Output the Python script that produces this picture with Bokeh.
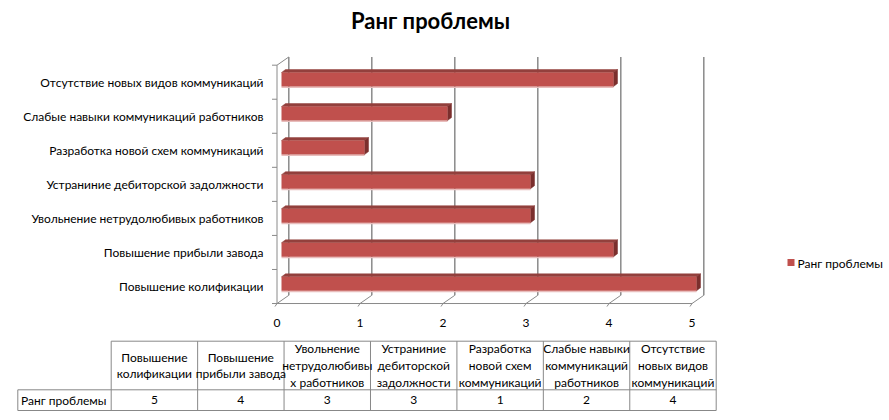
from bokeh.plotting import figure
from bokeh.models import Range1d, ColumnDataSource
from bokeh.core.properties import value
from bokeh.embed import file_html
from bokeh.resources import INLINE

# ---------------- data ----------------
title = "Ранг проблемы"
series_name = "Ранг проблемы"
categories = [
    "Повышение колификации",
    "Повышение прибыли завода",
    "Увольнение нетрудолюбивых работников",
    "Устраниние дебиторской задолжности",
    "Разработка новой схем коммуникаций",
    "Слабые навыки коммуникаций работников",
    "Отсутствие новых видов коммуникаций",
]
values = [5, 4, 3, 3, 1, 2, 4]
x_ticks = [0, 1, 2, 3, 4, 5]
table_headers = [
    "Повышение\nколификации",
    "Повышение\nприбыли завода",
    "Увольнение\nнетрудолюбивы\nх работников",
    "Устраниние\nдебиторской\nзадолжности",
    "Разработка\nновой схем\nкоммуникаций",
    "Слабые навыки\nкоммуникаций\nработников",
    "Отсутствие\nновых видов\nкоммуникаций",
]

# ---------------- layout helpers (pixel -> data) ----------------
W, H = 889, 420
X0, XS = 281.0, 83.0      # pixel of value 0 on bar plane, px per unit
Y0, YS = 283.3, 34.05     # pixel of first category centre, px per category


def fx(px):
    return (px - X0) / XS


def fy(py):
    return (Y0 - py) / YS


FONT = "Lato"
BAR = "#C0504D"
BAR_TOP = "#93403D"
BAR_SIDE = "#7B2F2D"
GRID = "#8A8A8A"

p = figure(width=W, height=H, output_backend="svg", toolbar_location=None,
           x_range=Range1d(fx(0), fx(W)), y_range=Range1d(fy(H), fy(0)),
           x_axis_type=None, y_axis_type=None, min_border=0,
           outline_line_color=None, background_fill_color="white",
           border_fill_color="white")
p.grid.visible = False

n = len(categories)
idx = list(range(n))

# 3D offsets (pixels)
fdx, fdy = -4.5, 2.7     # front plane relative to bar plane
bdx, bdy = 7.3, -5.5     # back plane relative to bar plane
ddx, ddy = 4.0, -3.0     # bar depth

xmax = x_ticks[-1]
# back wall gridlines
p.segment(x0=[t + bdx / XS for t in x_ticks], y0=[-0.5 - bdy / YS for _ in x_ticks],
          x1=[t + bdx / XS for t in x_ticks], y1=[n - 0.5 - bdy / YS for _ in x_ticks],
          line_color=GRID, line_width=1.5)
# floor diagonals
p.segment(x0=[t + fdx / XS for t in x_ticks], y0=[-0.5 - fdy / YS for _ in x_ticks],
          x1=[t + bdx / XS for t in x_ticks], y1=[-0.5 - bdy / YS for _ in x_ticks],
          line_color=GRID, line_width=1)
# front x axis line + ticks
p.segment(x0=[fdx / XS], y0=[-0.5 - fdy / YS], x1=[xmax + fdx / XS], y1=[-0.5 - fdy / YS],
          line_color=GRID, line_width=1)
p.segment(x0=[t + fdx / XS for t in x_ticks], y0=[-0.5 - fdy / YS for _ in x_ticks],
          x1=[t + (fdx - 2) / XS for t in x_ticks], y1=[-0.5 - (fdy + 3) / YS for _ in x_ticks],
          line_color=GRID, line_width=1)
# left front axis + top diagonal
p.segment(x0=[fdx / XS], y0=[-0.5 - fdy / YS], x1=[fdx / XS], y1=[n - 0.5 - fdy / YS],
          line_color=GRID, line_width=1)
p.segment(x0=[fdx / XS], y0=[n - 0.5 - fdy / YS], x1=[bdx / XS], y1=[n - 0.5 - bdy / YS],
          line_color=GRID, line_width=1)
# left category ticks
p.segment(x0=[(fdx - 5) / XS] * (n + 1), y0=[k - 0.5 - fdy / YS for k in range(n + 1)],
          x1=[fdx / XS] * (n + 1), y1=[k - 0.5 - fdy / YS for k in range(n + 1)],
          line_color=GRID, line_width=1)

# bars (3D)
bh = 14.0 / YS
src = ColumnDataSource(dict(y=idx, v=values, cat=categories))
# light reflection under each bar
p.quad(left=[0] * n, right=values, bottom=[i - bh / 2 - 1.5 / YS for i in idx],
       top=[i - bh / 2 for i in idx], fill_color="#E8BDBC", line_color=None)
top_xs, top_ys, side_xs, side_ys = [], [], [], []
for i, v in zip(idx, values):
    t = i + bh / 2
    bb = i - bh / 2
    top_xs.append([0, ddx / XS, v + ddx / XS, v])
    top_ys.append([t, t - ddy / YS, t - ddy / YS, t])
    side_xs.append([v, v + ddx / XS, v + ddx / XS, v])
    side_ys.append([t, t - ddy / YS, bb - ddy / YS, bb])
p.patches(xs=top_xs, ys=top_ys, fill_color=BAR_TOP, line_color=BAR_TOP, line_width=0.5)
p.patches(xs=side_xs, ys=side_ys, fill_color=BAR_SIDE, line_color=BAR_SIDE, line_width=0.5)
p.hbar(y="y", right="v", left=0, height=bh, source=src,
       fill_color=BAR, line_color=None)

# category labels
p.text(x=[fx(263)] * n, y=[i - 2.5 / YS for i in idx], text=categories,
       text_align="right", text_baseline="middle", text_font=value(FONT),
       text_font_size="12px", text_color="#000000")
# x tick labels
p.text(x=[t + fdx / XS for t in x_ticks], y=[fy(322)] * len(x_ticks),
       text=[str(t) for t in x_ticks], text_align="center", text_baseline="middle",
       text_font=value(FONT), text_font_size="12px", text_color="#000000")

# title
p.text(x=[fx(430)], y=[fy(20)], text=[title], text_align="center",
       text_baseline="middle", text_font=value(FONT), text_font_style="bold",
       text_font_size="22px", text_color="#000000")

# legend
p.scatter(x=[fx(790.5)], y=[fy(262)], marker="square", size=7,
          fill_color=BAR, line_color=None)
p.text(x=[fx(797)], y=[fy(262.5)], text=[series_name], text_align="left",
       text_baseline="middle", text_font=value(FONT), text_font_size="12px",
       text_color="#000000")

# data table
tx0, tx1 = 110.7, 715.7
cw = (tx1 - tx0) / n
ty0, ty1, ty2 = 340.7, 389.3, 410.0
rx0 = 17.3
TCOL = "#888888"
p.segment(x0=[fx(tx0), fx(rx0), fx(rx0)], y0=[fy(ty0), fy(ty1), fy(ty2)],
          x1=[fx(tx1)] * 3, y1=[fy(ty0), fy(ty1), fy(ty2)],
          line_color=TCOL, line_width=1)
vx = [tx0 + cw * k for k in range(n + 1)]
p.segment(x0=[fx(x) for x in vx] + [fx(rx0)], y0=[fy(ty0)] * (n + 1) + [fy(ty1)],
          x1=[fx(x) for x in vx] + [fx(rx0)], y1=[fy(ty2)] * (n + 2),
          line_color=TCOL, line_width=1)
cx = [fx(tx0 + cw * (k + 0.5)) for k in range(n)]
p.text(x=cx, y=[fy((ty0 + ty1) / 2)] * n, text=table_headers,
       text_align="center", text_baseline="middle", text_font=value(FONT),
       text_font_size="12px", text_line_height=1.13, text_color="#000000")
p.text(x=cx, y=[fy((ty1 + ty2) / 2)] * n, text=[str(v) for v in values],
       text_align="center", text_baseline="middle", text_font=value(FONT),
       text_font_size="12px", text_color="#000000")
p.text(x=[fx(20.5)], y=[fy((ty1 + ty2) / 2)], text=[series_name],
       text_align="left", text_baseline="middle", text_font=value(FONT),
       text_font_size="12px", text_color="#000000")

open("out.html", "w").write(file_html(p, INLINE))
